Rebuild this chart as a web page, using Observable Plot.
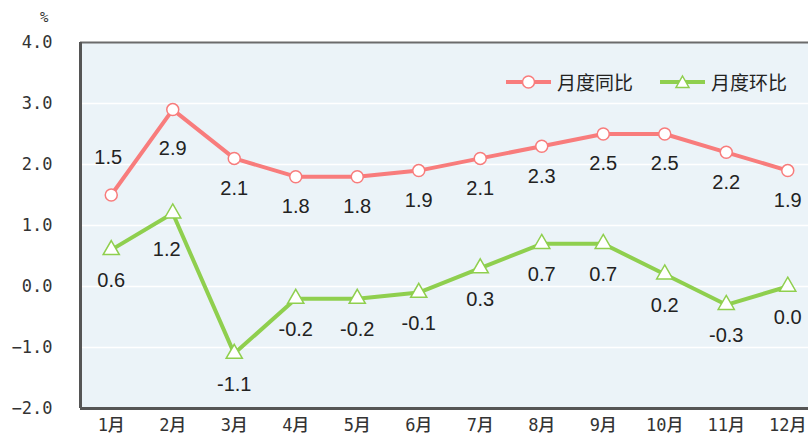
<!DOCTYPE html>
<html>
<head>
<meta charset="utf-8">
<script src="https://cdn.jsdelivr.net/npm/d3@7"></script>
<script src="https://cdn.jsdelivr.net/npm/@observablehq/plot@0.6"></script>
<style>
  html, body { margin: 0; padding: 0; background: #fff; overflow: hidden; }
  #wrap { position: relative; width: 808px; height: 439px; overflow: hidden; }
  #wrap > svg { max-width: none !important; height: 439px !important; }
  #pct { position: absolute; left: 40px; top: 9px; font: 14px "DejaVu Sans Mono", "Noto Sans CJK SC", monospace; color: #333; }
  #legend { position: absolute; left: 505px; top: 68px; display: flex; align-items: center; font: 19px "Noto Sans CJK SC", sans-serif; color: #222; }
  #legend .item { display: flex; align-items: center; }
  #legend svg { display: block; margin-right: 5px; }
</style>
</head>
<body>
<div id="wrap">
  <div id="pct">%</div>
  <div id="legend"></div>
</div>
<script>
const months = ["1月","2月","3月","4月","5月","6月","7月","8月","9月","10月","11月","12月"];
const yoy = [1.5, 2.9, 2.1, 1.8, 1.8, 1.9, 2.1, 2.3, 2.5, 2.5, 2.2, 1.9];
const mom = [0.6, 1.2, -1.1, -0.2, -0.2, -0.1, 0.3, 0.7, 0.7, 0.2, -0.3, 0.0];
const yTicks = [-2, -1, 0, 1, 2, 3, 4];
const seriesNames = ["月度同比", "月度环比"];

const red = "#F87C7C";
const green = "#8FCF4E";
const bg = "#EBF3F8";

const yoyData = yoy.map((v, i) => ({i, v}));
const momData = mom.map((v, i) => ({i, v}));

const labelFont = "Liberation Sans, Arial, sans-serif";

const chart = Plot.plot({
  width: 830,
  height: 439,
  marginLeft: 80,
  marginRight: 12,
  marginTop: 42,
  marginBottom: 31,
  style: {background: "transparent", overflow: "visible", maxWidth: "none"},
  x: {domain: [-0.5, 11.5], axis: null},
  y: {domain: [-2, 4], axis: null},
  marks: [
    Plot.frame({fill: bg, stroke: null}),
    Plot.ruleY(yTicks.filter(t => t > -2 && t < 4), {stroke: "#fff", strokeWidth: 1.5}),
    Plot.ruleY([4], {stroke: "#6b6b6b", strokeWidth: 2}),
    Plot.ruleY([-2], {stroke: "#555", strokeWidth: 3}),
    Plot.ruleX([-0.5], {stroke: "#555", strokeWidth: 3}),
    Plot.axisY({ticks: yTicks, tickSize: 0, tickPadding: 28, tickFormat: d3.format(".1f"),
      fontFamily: "DejaVu Sans Mono, monospace", fontSize: 17, fill: "#333", label: null}),
    Plot.axisX({ticks: d3.range(months.length), tickSize: 0, tickPadding: 10, tickFormat: i => months[i],
      fontFamily: "DejaVu Sans Mono, Noto Sans CJK SC, monospace", fontSize: 17, fill: "#333", fontWeight: 500, label: null}),
    Plot.line(yoyData, {x: "i", y: "v", stroke: red, strokeWidth: 4}),
    Plot.line(momData, {x: "i", y: "v", stroke: green, strokeWidth: 4}),
    Plot.dot(yoyData, {x: "i", y: "v", r: 6, fill: "#fff", stroke: red, strokeWidth: 1.5}),
    Plot.dot(momData, {x: "i", y: "v", r: 6, symbol: "triangle", fill: "#fff", stroke: green, strokeWidth: 1.5}),
    // labels for 同比
    Plot.text(yoyData.filter(d => d.i === 0), {x: "i", y: "v", text: d => d.v.toFixed(1), dy: -37, dx: -3, fontSize: 20, fontFamily: labelFont, fill: "#222"}),
    Plot.text(yoyData.filter(d => d.i === 1), {x: "i", y: "v", text: d => d.v.toFixed(1), dy: 39, fontSize: 20, fontFamily: labelFont, fill: "#222"}),
    Plot.text(yoyData.filter(d => d.i > 1), {x: "i", y: "v", text: d => d.v.toFixed(1), dy: 30, fontSize: 20, fontFamily: labelFont, fill: "#222"}),
    // labels for 环比
    Plot.text(momData.filter(d => d.i === 1), {x: "i", y: "v", text: d => d.v.toFixed(1), dy: 36, dx: -6, fontSize: 20, fontFamily: labelFont, fill: "#222"}),
    Plot.text(momData.filter(d => d.i !== 1), {x: "i", y: "v", text: d => d.v.toFixed(1), dy: 31, fontSize: 20, fontFamily: labelFont, fill: "#222"})
  ]
});
chart.style.position = "absolute";
chart.style.left = "0px";
chart.style.top = "0px";
chart.style.maxWidth = "none";
document.getElementById("wrap").prepend(chart);

// legend
const legend = document.getElementById("legend");
const syms = [
  `<svg width="47" height="16"><line x1="1" y1="8" x2="46" y2="8" stroke="${red}" stroke-width="4"/><circle cx="23.5" cy="8" r="6" fill="#fff" stroke="${red}" stroke-width="1.5"/></svg>`,
  `<svg width="47" height="16"><line x1="1" y1="8" x2="46" y2="8" stroke="${green}" stroke-width="4"/><path d="M23.5,2 L30,13.5 L17,13.5 Z" fill="#fff" stroke="${green}" stroke-width="1.5"/></svg>`
];
seriesNames.forEach((name, k) => {
  const it = document.createElement("div");
  it.className = "item";
  it.style.marginRight = k === 0 ? "26px" : "0";
  it.innerHTML = syms[k] + `<span>${name}</span>`;
  legend.appendChild(it);
});
</script>
</body>
</html>
